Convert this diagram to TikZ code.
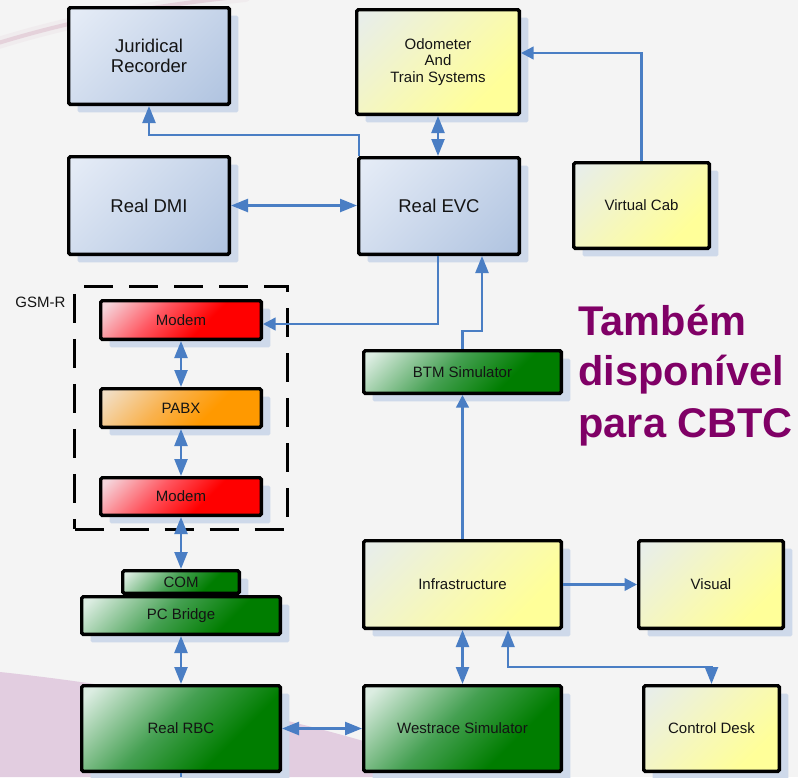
\documentclass[tikz,border=0pt]{standalone}
\usepackage{fontspec}
\setmainfont{Liberation Sans}
\usetikzlibrary{arrows.meta,shadows}
\definecolor{bg}{HTML}{F4F4F4}
\definecolor{pinkbg}{HTML}{E2CDE0}
\definecolor{swooshc}{HTML}{C98FAA}
\definecolor{txt}{HTML}{141414}
\definecolor{conncol}{HTML}{4A7EC4}
\definecolor{shadowc}{HTML}{CED9EA}
\definecolor{purp}{HTML}{800066}
\definecolor{blueA}{HTML}{E4EBF6}
\definecolor{blueB}{HTML}{B2C5E1}
\definecolor{yelA}{HTML}{E8EEE9}
\definecolor{yelM}{HTML}{F7F8B8}
\definecolor{yelB}{HTML}{FFFF99}
\definecolor{redA}{HTML}{F5D5DB}
\definecolor{redM}{HTML}{FF5660}
\definecolor{redB}{HTML}{FF0000}
\definecolor{oraA}{HTML}{F2DEC4}
\definecolor{oraM}{HTML}{F9B24E}
\definecolor{oraB}{HTML}{FF9900}
\definecolor{grnA}{HTML}{DCEDE2}
\definecolor{grnM}{HTML}{45A052}
\definecolor{grnB}{HTML}{007D00}
\pgfdeclarehorizontalshading{bluesh}{100bp}{color(0bp)=(blueA); color(18bp)=(blueA); color(82bp)=(blueB); color(100bp)=(blueB)}
\pgfdeclarehorizontalshading{yelsh}{100bp}{color(0bp)=(yelA); color(18bp)=(yelA); color(50bp)=(yelM); color(72bp)=(yelB); color(100bp)=(yelB)}
\pgfdeclarehorizontalshading{redsh}{100bp}{color(0bp)=(redA); color(18bp)=(redA); color(40bp)=(redM); color(60bp)=(redB); color(100bp)=(redB)}
\pgfdeclarehorizontalshading{orash}{100bp}{color(0bp)=(oraA); color(18bp)=(oraA); color(42bp)=(oraM); color(62bp)=(oraB); color(100bp)=(oraB)}
\pgfdeclarehorizontalshading{grnsh}{100bp}{color(0bp)=(grnA); color(18bp)=(grnA); color(45bp)=(grnM); color(66bp)=(grnB); color(100bp)=(grnB)}
\tikzset{
  bigtip/.tip={Triangle[length=17pt,width=13pt]},
  smalltip/.tip={Triangle[length=12.5pt,width=12.5pt]},
}
\begin{document}
\begin{tikzpicture}[x=1pt,y=-1pt,
  box/.style={draw=black, line width=3.4pt, rounded corners=1.5pt, inner sep=0pt,
    align=center, text=txt, font=\fontsize{15}{16.7}\selectfont,
    general shadow={fill=shadowc, draw=none, shadow xshift=9pt, shadow yshift=-8pt}},
  bluebox/.style={box, shading=bluesh, shading angle=-45},
  yelbox/.style={box, shading=yelsh, shading angle=-45},
  redbox/.style={box, shading=redsh, shading angle=-45},
  orabox/.style={box, shading=orash, shading angle=-45},
  grnbox/.style={box, shading=grnsh, shading angle=-45},
  bigfont/.style={font=\fontsize{18.5}{19.5}\selectfont},
  conn/.style={draw=conncol, line width=2.4pt},
  dbl/.style={conn, bigtip-bigtip},
  one/.style={conn, -bigtip},
  ones/.style={conn, -smalltip},
  cbtc/.style={anchor=base west, text=purp, font=\bfseries\fontsize{41.5}{50}\selectfont},
]
\useasboundingbox (0,0) rectangle (798,777);
\fill[bg] (0,0) rectangle (798,777);
% background decoration
\fill[pinkbg] (0,672) .. controls (150,688) and (330,722) .. (470,777) -- (0,777) -- cycle;
\draw[swooshc, line width=12pt, opacity=0.08, line cap=round] (-5,44) .. controls (60,24) and (130,8) .. (245,-4);
\draw[swooshc, line width=4pt, opacity=0.28, line cap=round] (-5,44) .. controls (60,24) and (130,8) .. (245,-4);

% GSM-R group
\node[draw=black, line width=3.4pt, dash pattern=on 29pt off 16pt, minimum width=212.6pt, minimum height=242.6pt, inner sep=0pt] (gsmbox) at (181,408) {};
\node[anchor=base east, text=txt, font=\fontsize{15}{17}\selectfont] (gsm) at (69,307) {GSM-R};

% boxes
\node[bluebox, bigfont, minimum width=160.6pt, minimum height=96.6pt] (jur) at (149,56) {Juridical\\Recorder};
\node[bluebox, bigfont, minimum width=160.6pt, minimum height=97.6pt] (dmi) at (149,205.5) {Real DMI};
\node[yelbox, minimum width=162.6pt, minimum height=104.6pt] (odo) at (438,62) {Odometer\\And\\Train Systems};
\node[bluebox, bigfont, minimum width=160.6pt, minimum height=96.6pt] (evc) at (439,206) {Real EVC};
\node[yelbox, minimum width=135.6pt, minimum height=85.6pt] (vcab) at (641.5,205.5) {Virtual Cab};
\node[redbox, minimum width=160.6pt, minimum height=38.6pt] (modem1) at (181,320) {Modem};
\node[orabox, minimum width=160.6pt, minimum height=38.6pt] (pabx) at (181,408) {PABX};
\node[redbox, minimum width=160.6pt, minimum height=37.6pt] (modem2) at (181,496.5) {Modem};
\node[grnbox, minimum width=197.6pt, minimum height=42.6pt] (btm) at (462.5,372) {BTM Simulator};
\node[yelbox, minimum width=197.6pt, minimum height=87.6pt] (infra) at (462.5,584.5) {Infrastructure};
\node[yelbox, minimum width=144.6pt, minimum height=87.6pt] (visual) at (711,584.5) {Visual};
\node[grnbox, minimum width=197.6pt, minimum height=85.6pt] (west) at (462.5,728.5) {Westrace Simulator};
\node[yelbox, minimum width=135.6pt, minimum height=85.6pt] (cdesk) at (711.5,728.5) {Control Desk};
\node[grnbox, minimum width=116.6pt, minimum height=22.6pt] (com) at (181,582) {COM};
\node[grnbox, minimum width=198.6pt, minimum height=37.6pt] (pcb) at (181,615.5) {PC Bridge};
\node[grnbox, minimum width=198.6pt, minimum height=85.6pt] (rbc) at (181,728.5) {Real RBC};

% big text
\node[cbtc] (t1) at (575,335) {Também};
\node[cbtc] (t2) at (575,385) {disponível};
\node[cbtc] (t3) at (575,437) {para CBTC};

% connectors
\draw[one] ([xshift=2pt]evc.north west) -- ([xshift=2pt]evc.north west |- 0,135) -| (jur.south);
\draw[dbl] (dmi.east) -- (dmi.east -| evc.west);
\draw[dbl] (odo.south) -- (odo.south |- evc.north);
\draw[ones] (vcab.north) -- (vcab.north |- 0,53) -- (odo.east |- 0,53);
\draw[ones] (evc.south -| odo.south) -- (438,324) -- (modem1.east |- 0,324);
\draw[one] (btm.north) -- (btm.north |- 0,331) -- (482,331) -- (evc.south -| 482,0);
\draw[ones] (infra.north) -- (btm.south);
\draw[ones] (infra.east) -- (visual.west);
\draw[dbl] (infra.south) -- (west.north);
\draw[dbl] (infra.south -| 508,0) -- (508,667) -| (cdesk.north);
\draw[dbl] (rbc.east) -- (west.west);
\draw[dbl] (modem1.south) -- (pabx.north);
\draw[dbl] (pabx.south) -- (modem2.north);
\draw[dbl] (modem2.south) -- (com.north);
\draw[dbl] (pcb.south) -- (rbc.north);
\coordinate (bottomend) at (181,777);
\draw[conn] (rbc.south) -- (bottomend);
\end{tikzpicture}
\end{document}
